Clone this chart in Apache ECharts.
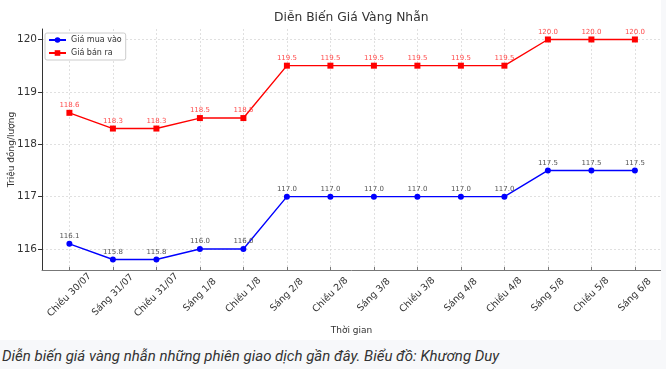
<!DOCTYPE html>
<html>
<head>
<meta charset="utf-8">
<script src="https://cdn.jsdelivr.net/npm/echarts@6/dist/echarts.min.js"></script>
<style>
  html, body { margin: 0; padding: 0; background: #f7f8fa; }
  #wrap { position: relative; width: 666px; height: 369px; overflow: hidden; background: #f7f8fa; }
  #main { position: absolute; left: 0; top: 0; width: 661px; height: 340px; background: #fff; }
  #caption { position: absolute; left: 2px; top: 347px; font: italic 15px Roboto, sans-serif; color: #333; white-space: nowrap; }
</style>
</head>
<body>
<div id="wrap">
  <div id="main"></div>
  <div id="caption">Diễn biến giá vàng nhẫn những phiên giao dịch gần đây. Biểu đồ: Khương Duy</div>
</div>
<script>
// phiên giao dịch
const categories = ['Chiều 30/07', 'Sáng 31/07', 'Chiều 31/07', 'Sáng 1/8', 'Chiều 1/8', 'Sáng 2/8', 'Chiều 2/8',
  'Sáng 3/8', 'Chiều 3/8', 'Sáng 4/8', 'Chiều 4/8', 'Sáng 5/8', 'Chiều 5/8', 'Sáng 6/8']
// triệu đồng/lượng
const buyPrices = [116.1, 115.8, 115.8, 116.0, 116.0, 117.0, 117.0, 117.0, 117.0, 117.0, 117.0, 117.5, 117.5, 117.5]
const sellPrices = [118.6, 118.3, 118.3, 118.5, 118.5, 119.5, 119.5, 119.5, 119.5, 119.5, 119.5, 120.0, 120.0, 120.0]
const yTicks = [116, 117, 118, 119, 120]
const xTicks = categories.map((c, i) => i)

const font = 'DejaVu Sans'
const gridLine = { show: true, lineStyle: { color: '#d9d9d9', type: [2, 2], width: 0.8 } }

const chart = echarts.init(document.getElementById('main'))
chart.setOption({
  animation: false,
  textStyle: { fontFamily: font },
  title: {
    text: 'Diễn Biến Giá Vàng Nhẫn',
    left: 274,
    top: 12,
    padding: 0,
    textStyle: { fontSize: 12.3, fontWeight: 'normal', color: '#333', fontFamily: font },
  },
  legend: {
    orient: 'vertical',
    left: 45,
    top: 33,
    padding: [3, 4, 3, 3],
    itemGap: 5,
    itemWidth: 17,
    itemHeight: 7,
    borderColor: '#ccc',
    borderWidth: 1,
    borderRadius: 2,
    backgroundColor: '#fff',
    textStyle: { fontSize: 8, color: '#333', fontFamily: font },
    data: ['Giá mua vào', 'Giá bán ra'],
  },
  grid: { left: 42, right: 0, top: 29, bottom: 70, outerBoundsMode: 'none' },
  xAxis: {
    type: 'value',
    min: -0.63,
    max: 13.6,
    name: 'Thời gian',
    nameLocation: 'middle',
    nameGap: 56,
    nameMoveOverlap: false,
    nameTextStyle: { fontSize: 9, color: '#333', fontFamily: font },
    axisLine: { onZero: false, lineStyle: { color: '#777', width: 1 } },
    axisTick: { show: true, inside: true, length: 3, customValues: xTicks, lineStyle: { color: '#777' } },
    axisLabel: {
      customValues: xTicks,
      rotate: 45,
      align: 'center',
      verticalAlign: 'middle',
      margin: 25,
      fontSize: 9.5,
      color: '#333',
      fontFamily: font,
      formatter: (v) => categories[Math.round(v)],
    },
    splitLine: gridLine,
  },
  yAxis: {
    type: 'value',
    min: 115.6,
    max: 120.2,
    name: 'Triệu đồng/lượng',
    nameLocation: 'middle',
    nameGap: 26,
    nameMoveOverlap: false,
    nameTextStyle: { fontSize: 9, color: '#333', fontFamily: font },
    axisLine: { show: true, onZero: false, lineStyle: { color: '#333', width: 1 } },
    axisTick: { show: true, length: 4, customValues: yTicks, lineStyle: { color: '#333' } },
    axisLabel: { customValues: yTicks, fontSize: 10.5, color: '#333', margin: 5, fontFamily: font },
    splitLine: gridLine,
  },
  series: [
    {
      name: 'Giá mua vào',
      type: 'line',
      data: buyPrices.map((v, i) => [i, v]),
      symbol: 'circle',
      symbolSize: 6,
      lineStyle: { color: '#0000ff', width: 1.4 },
      itemStyle: { color: '#0000ff' },
      label: {
        show: true, position: 'top', distance: 1, fontSize: 7, color: '#555', fontFamily: font,
        formatter: (p) => p.value[1].toFixed(1),
      },
    },
    {
      name: 'Giá bán ra',
      type: 'line',
      data: sellPrices.map((v, i) => [i, v]),
      symbol: 'rect',
      symbolSize: 6,
      lineStyle: { color: '#ff0000', width: 1.4 },
      itemStyle: { color: '#ff0000' },
      label: {
        show: true, position: 'top', distance: 1, fontSize: 7, color: '#ff4d4d', fontFamily: font,
        formatter: (p) => p.value[1].toFixed(1),
      },
    },
  ],
})
</script>
</body>
</html>
